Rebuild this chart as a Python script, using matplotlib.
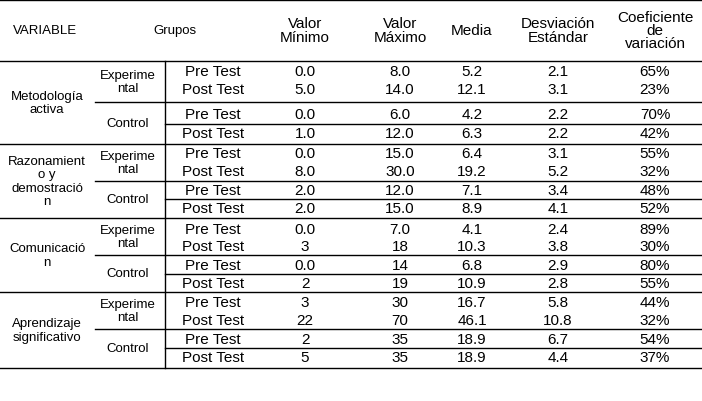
import matplotlib
matplotlib.use("Agg")
import matplotlib.pyplot as plt

variables = ["Metodología\nactiva", "Razonamient\no y\ndemostració\nn", "Comunicació\nn", "Aprendizaje\nsignificativo"]
groups = ["Experime\nntal", "Control"]
tests = ["Pre Test", "Post Test"]
headers = ["Valor\nMínimo", "Valor\nMáximo", "Media", "Desviación\nEstándar", "Coeficiente\nde\nvariación"]
minimo = ["0.0","5.0","0.0","1.0","0.0","8.0","2.0","2.0","0.0","3","0.0","2","3","22","2","5"]
maximo = ["8.0","14.0","6.0","12.0","15.0","30.0","12.0","15.0","7.0","18","14","19","30","70","35","35"]
media = ["5.2","12.1","4.2","6.3","6.4","19.2","7.1","8.9","4.1","10.3","6.8","10.9","16.7","46.1","18.9","18.9"]
desv = ["2.1","3.1","2.2","2.2","3.1","5.2","3.4","4.1","2.4","3.8","2.9","2.8","5.8","10.8","6.7","4.4"]
coef = ["65%","23%","70%","42%","55%","32%","48%","52%","89%","30%","80%","55%","44%","32%","54%","37%"]

fig = plt.figure(figsize=(7.02, 4.02), dpi=100)
ax = fig.add_axes([0, 0, 1, 1])
ax.set_xlim(0, 702); ax.set_ylim(402, 0); ax.axis("off")
font = "Liberation Sans"
def t(x, y, s, fs=11, ls=1.0):
    ax.text(x, y, s, ha="center", va="center", fontsize=fs, family=font, linespacing=ls)

xcols = [305, 400, 472, 558, 655]
t(45, 31, "VARIABLE", 9.5); t(175, 31, "Grupos", 9.5)
for x, h in zip(xcols, headers):
    t(x, 31, h, 11, 0.95)
ax.plot([0, 702], [1, 1], color="black", lw=1)
ax.plot([0, 702], [62, 62], color="black", lw=1)

blocks = [(62, 103, 125, 145), (145, 182, 200, 219), (219, 256, 275, 293), (293, 330, 349, 369)]
row_y = [72, 90, 115, 134, 154, 172, 191, 209, 230, 247, 266, 284, 303, 321, 340, 358]
for b, (top, mid, cs, bot) in enumerate(blocks):
    t(47, (top + bot) / 2, variables[b], 9.5, 1.15)
    t(128, (top + mid) / 2, groups[0], 9.5, 1.15)
    t(128, (mid + bot) / 2, groups[1], 9.5)
    ax.plot([95, 702], [mid, mid], color="black", lw=1)
    ax.plot([165, 702], [cs, cs], color="black", lw=1)
    ax.plot([0, 702], [bot, bot], color="black", lw=1)
ax.plot([165, 165], [62, 369], color="black", lw=1)

for i, y in enumerate(row_y):
    t(213, y, tests[i % 2])
    for x, col in zip(xcols, [minimo, maximo, media, desv, coef]):
        t(x, y, col[i])

fig.savefig("out.png", dpi=100)
